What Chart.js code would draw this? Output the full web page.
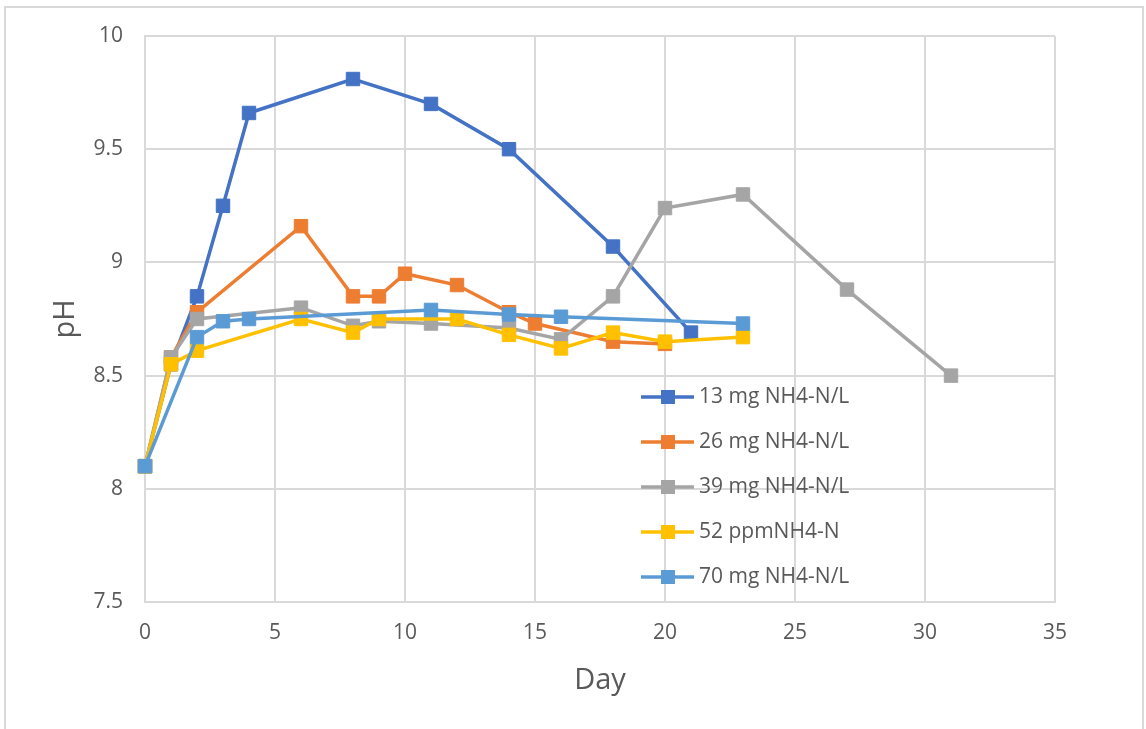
<!DOCTYPE html>
<html>
<head>
<meta charset="utf-8">
<script src="https://cdn.jsdelivr.net/npm/chart.js@4"></script>
<style>
  body { margin: 0; background: #fff; }
  #frame { position: absolute; left: 4px; top: 6px; width: 1136px; height: 760px; border: 2px solid #d9d9d9; }
  #wrap { position: absolute; left: 0; top: 0; width: 1146px; height: 729px; }
</style>
</head>
<body>
<div id="frame"></div>
<div id="wrap"><canvas id="chart" width="1146" height="729"></canvas></div>
<script>
// pH readings per series (day, pH)
const labels = ["13 mg NH4-N/L", "26 mg NH4-N/L", "39 mg NH4-N/L", "52 ppmNH4-N", "70 mg NH4-N/L"];
const colors = ["#4472C4", "#ED7D31", "#A5A5A5", "#FFC000", "#5B9BD5"];

const days13 = [0, 1, 2, 3, 4, 8, 11, 14, 18, 21];
const ph13   = [8.1, 8.55, 8.85, 9.25, 9.66, 9.81, 9.70, 9.50, 9.07, 8.69];

const days26 = [0, 1, 2, 6, 8, 9, 10, 12, 14, 15, 18, 20];
const ph26   = [8.1, 8.58, 8.78, 9.16, 8.85, 8.85, 8.95, 8.90, 8.78, 8.73, 8.65, 8.64];

const days39 = [0, 1, 2, 6, 8, 9, 11, 14, 16, 18, 20, 23, 27, 31];
const ph39   = [8.1, 8.58, 8.75, 8.80, 8.72, 8.74, 8.73, 8.71, 8.66, 8.85, 9.24, 9.30, 8.88, 8.50];

const days52 = [0, 1, 2, 6, 8, 9, 12, 14, 16, 18, 20, 23];
const ph52   = [8.1, 8.55, 8.61, 8.75, 8.69, 8.75, 8.75, 8.68, 8.62, 8.69, 8.65, 8.67];

const days70 = [0, 2, 3, 4, 11, 14, 16, 23];
const ph70   = [8.1, 8.67, 8.74, 8.75, 8.79, 8.77, 8.76, 8.73];

const allDays = [days13, days26, days39, days52, days70];
const allPh = [ph13, ph26, ph39, ph52, ph70];

const textColor = "#595959";
const gridColor = "#d9d9d9";
const fontFamily = "'Open Sans', sans-serif";

const datasets = labels.map((label, i) => ({
    label: label,
    data: allDays[i].map((d, j) => ({ x: d, y: allPh[i][j] })),
    borderColor: colors[i],
    backgroundColor: colors[i],
    borderWidth: 3.5,
    pointStyle: "rect",
    pointRadius: 9.5,
    pointBorderWidth: 1,
    tension: 0,
    clip: false,
    order: labels.length - i   // later series drawn on top, like the original
}));

// legend drawn inside the plot area
const insideLegend = {
    id: "insideLegend",
    afterDraw(chart) {
        const ctx = chart.ctx;
        ctx.save();
        ctx.font = "21px " + fontFamily;
        ctx.textBaseline = "middle";
        ctx.textAlign = "left";
        chart.data.datasets.forEach((ds, i) => {
            const y = 397 + i * 45;
            ctx.strokeStyle = ds.borderColor;
            ctx.lineWidth = 3.5;
            ctx.beginPath();
            ctx.moveTo(641, y);
            ctx.lineTo(694, y);
            ctx.stroke();
            ctx.fillStyle = ds.backgroundColor;
            ctx.fillRect(661, y - 7, 14, 14);
            ctx.fillStyle = textColor;
            ctx.fillText(ds.label, 699, y);
        });
        ctx.restore();
    }
};

new Chart(document.getElementById("chart"), {
    type: "line",
    data: { datasets: datasets },
    options: {
        responsive: false,
        animation: false,
        layout: { padding: { top: 36, right: 91, left: 0, bottom: 0 } },
        plugins: {
            legend: { display: false },
            tooltip: { enabled: false }
        },
        scales: {
            x: {
                type: "linear",
                min: 0,
                max: 35,
                ticks: { stepSize: 5, color: textColor, padding: 18, font: { size: 21, family: fontFamily } },
                grid: { color: gridColor, lineWidth: 2, drawTicks: false },
                border: { color: gridColor, width: 2 },
                title: { display: true, text: "Day", color: textColor, font: { size: 29, family: fontFamily }, padding: { top: 0, bottom: 31 } },
                afterFit(scale) { scale.height = 127; }
            },
            y: {
                min: 7.5,
                max: 10,
                ticks: { stepSize: 0.5, color: textColor, padding: 22, font: { size: 21, family: fontFamily },
                         callback: (value) => String(value) },
                grid: { color: gridColor, lineWidth: 2, drawTicks: false },
                border: { color: gridColor, width: 2 },
                title: { display: true, text: "pH", color: textColor, font: { size: 29, family: fontFamily }, padding: { top: 48, bottom: 0 } },
                afterFit(scale) { scale.width = 145; }
            }
        }
    },
    plugins: [insideLegend]
});
</script>
</body>
</html>
